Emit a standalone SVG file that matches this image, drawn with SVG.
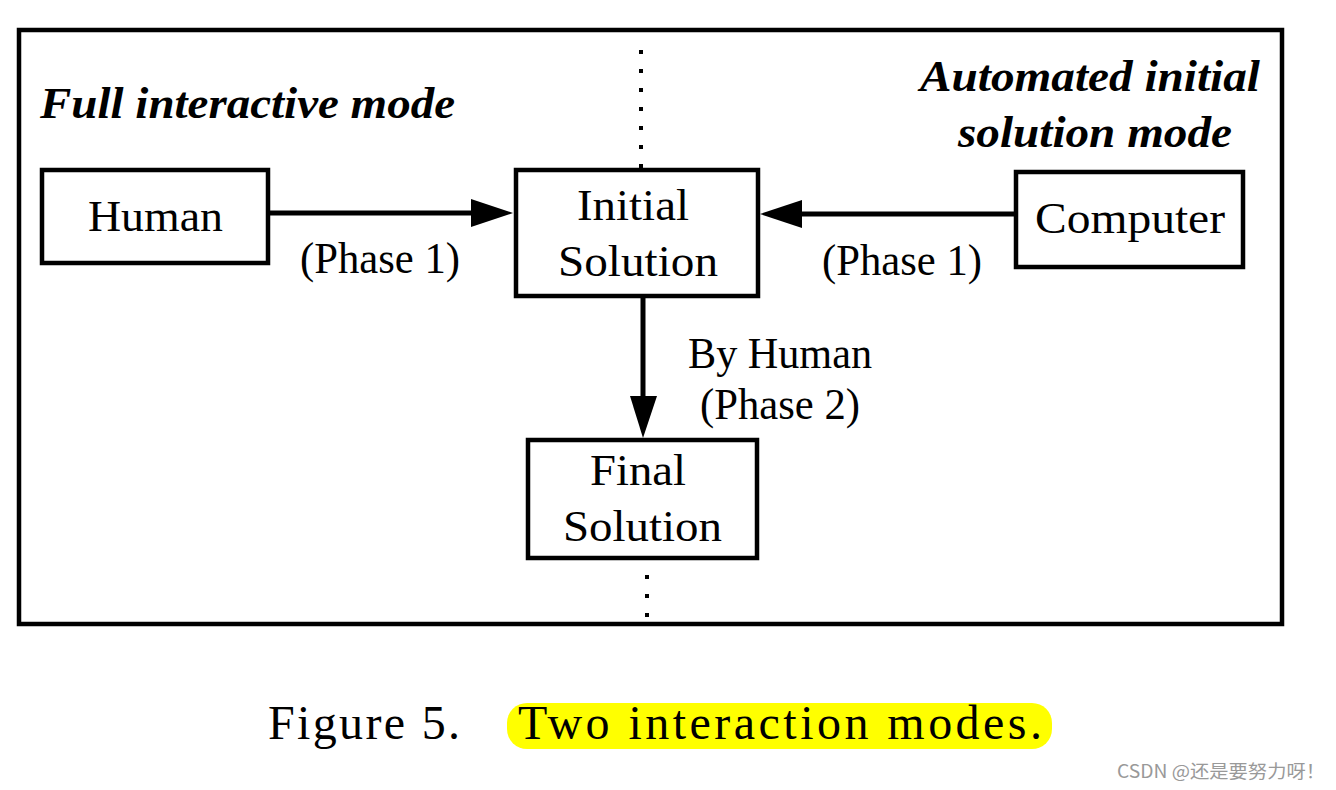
<svg xmlns="http://www.w3.org/2000/svg" width="1336" height="790" viewBox="0 0 1336 790">
<style>
.box{fill:#fff;stroke:#000;stroke-width:4.5}
.t{font-family:"Liberation Serif","Times New Roman",serif;font-size:44px;fill:#000}
.c{font-family:"Liberation Serif","Times New Roman",serif;font-size:48px;fill:#000}
.h{font-family:"Liberation Serif","Times New Roman",serif;font-size:44px;font-weight:bold;font-style:italic;fill:#000}
.ln{stroke:#000;stroke-width:5;fill:none}
.dot{stroke:#000;stroke-width:4;stroke-dasharray:4 15;fill:none}
</style>
<rect width="1336" height="790" fill="#fff"/>
<g id="frame">
<rect x="19" y="30" width="1263" height="594" fill="none" stroke="#000" stroke-width="4.5"/>
<line class="dot" x1="641" y1="50" x2="641" y2="170"/>
<line class="dot" x1="647" y1="575" x2="647" y2="620"/>
</g>
<g id="title-left">
<text class="h" x="40" y="118" textLength="415" lengthAdjust="spacingAndGlyphs">Full interactive mode</text>
</g>
<g id="title-right">
<text class="h" x="920" y="91" textLength="340" lengthAdjust="spacingAndGlyphs">Automated initial</text>
<text class="h" x="958" y="147" textLength="274" lengthAdjust="spacingAndGlyphs">solution mode</text>
</g>
<g id="connectors">
<line class="ln" x1="268" y1="213" x2="475" y2="213"/>
<polygon points="513,213 471,199 471,227" fill="#000"/>
<line class="ln" x1="1016" y1="214" x2="798" y2="214"/>
<polygon points="760,214 802,200 802,228" fill="#000"/>
<line class="ln" x1="643" y1="296" x2="643" y2="402"/>
<polygon points="643,438 630,396 657,396" fill="#000"/>
<text class="t" x="300" y="273" textLength="160" lengthAdjust="spacingAndGlyphs">(Phase 1)</text>
<text class="t" x="822" y="275" textLength="160" lengthAdjust="spacingAndGlyphs">(Phase 1)</text>
<text class="t" x="688" y="368" textLength="184" lengthAdjust="spacingAndGlyphs">By Human</text>
<text class="t" x="700" y="419" textLength="160" lengthAdjust="spacingAndGlyphs">(Phase 2)</text>
</g>
<g id="human">
<rect class="box" x="42" y="170" width="226" height="93"/>
<text class="t" x="88" y="231" textLength="135" lengthAdjust="spacingAndGlyphs">Human</text>
</g>
<g id="initial">
<rect class="box" x="516" y="170" width="242" height="126"/>
<text class="t" x="577" y="220" textLength="112" lengthAdjust="spacingAndGlyphs">Initial</text>
<text class="t" x="558" y="276" textLength="160" lengthAdjust="spacingAndGlyphs">Solution</text>
</g>
<g id="computer">
<rect class="box" x="1016" y="172" width="227" height="95"/>
<text class="t" x="1035" y="233" textLength="190" lengthAdjust="spacingAndGlyphs">Computer</text>
</g>
<g id="final">
<rect class="box" x="528" y="440" width="229" height="118"/>
<text class="t" x="590" y="485" textLength="96" lengthAdjust="spacingAndGlyphs">Final</text>
<text class="t" x="563" y="541" textLength="159" lengthAdjust="spacingAndGlyphs">Solution</text>
</g>
<g id="caption">
<rect x="507" y="703" width="545" height="46" rx="20" fill="#ffff00"/>
<text class="c" x="268" y="739" textLength="192" lengthAdjust="spacing">Figure 5.</text>
<text class="c" x="518" y="739" textLength="524" lengthAdjust="spacing">Two interaction modes.</text>
</g>
<g id="watermark">
<text x="1117" y="778" font-family="'Noto Sans CJK SC','Noto Sans',sans-serif" font-size="18" fill="#999" textLength="208" lengthAdjust="spacingAndGlyphs">CSDN @还是要努力呀！</text>
</g>
</svg>
